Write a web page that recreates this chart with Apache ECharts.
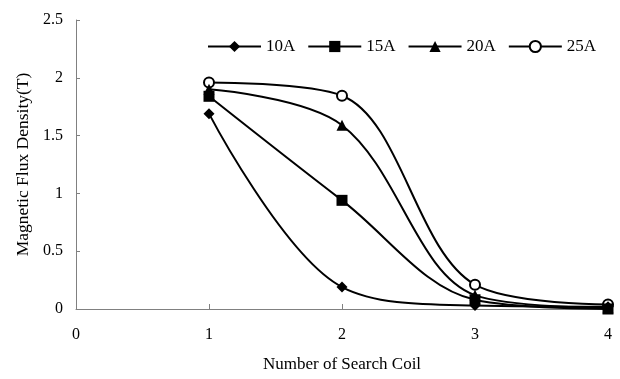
<!DOCTYPE html>
<html><head><meta charset="utf-8">
<script src="https://cdn.jsdelivr.net/npm/echarts@6/dist/echarts.min.js"></script>
<style>html,body{margin:0;padding:0;background:#fff}#c{width:620px;height:379px}</style>
</head><body><div id="c"></div>
<script>
var xValues = [1, 2, 3, 4];
var s10A = [1.69, 0.19, 0.03, 0.02];
var s15A = [1.84, 0.94, 0.08, 0.0];
var s20A = [1.90, 1.59, 0.12, 0.01];
var s25A = [1.96, 1.845, 0.21, 0.04];
var seriesNames = ['10A', '15A', '20A', '25A'];
var seriesData = [s10A, s15A, s20A, s25A];
var symbols = ['diamond', 'rect', 'triangle', 'emptyCircle'];
var symbolSizes = [11, 11, 11, 10];

var font = '"Liberation Serif", "Times New Roman", serif';
var chart = echarts.init(document.getElementById('c'), null, {renderer: 'canvas'});
var series = seriesData.map(function (d, i) {
  return {
    name: seriesNames[i], type: 'line', smooth: 0.35,
    data: xValues.map(function (x, j) { return [x, d[j]]; }),
    symbol: symbols[i], symbolSize: symbolSizes[i],
    lineStyle: {color: '#000', width: 2},
    itemStyle: {color: '#000', borderColor: '#000', borderWidth: symbols[i] === 'emptyCircle' ? 1.8 : 0},
    z: 10 - i
  };
});
chart.setOption({
  animation: false,
  backgroundColor: '#fff',
  grid: {left: 76, right: 12, top: 20, bottom: 70},
  legend: {
    top: 33, left: 202, itemGap: 12, itemWidth: 53, itemHeight: 14,
    textStyle: {fontFamily: font, fontSize: 17, color: '#000'},
    data: seriesNames
  },
  xAxis: {
    type: 'value', min: 0, max: 4, interval: 1,
    name: 'Number of Search Coil', nameLocation: 'middle', nameGap: 47,
    nameTextStyle: {fontFamily: font, fontSize: 17, color: '#000'},
    axisLine: {lineStyle: {color: '#808080', width: 1}},
    axisTick: {inside: true, length: 5, lineStyle: {color: '#808080'}},
    axisLabel: {fontFamily: font, fontSize: 16, color: '#000', margin: 18},
    splitLine: {show: false}
  },
  yAxis: {
    type: 'value', min: 0, max: 2.5, interval: 0.5,
    name: 'Magnetic Flux Density(T)', nameLocation: 'middle', nameGap: 44,
    nameTextStyle: {fontFamily: font, fontSize: 17.5, color: '#000'},
    axisLine: {show: true, lineStyle: {color: '#808080', width: 1}},
    axisTick: {show: true, inside: true, length: 4, lineStyle: {color: '#808080'}},
    axisLabel: {fontFamily: font, fontSize: 16, color: '#000', margin: 13},
    splitLine: {show: false}
  },
  series: series
});
</script></body></html>
